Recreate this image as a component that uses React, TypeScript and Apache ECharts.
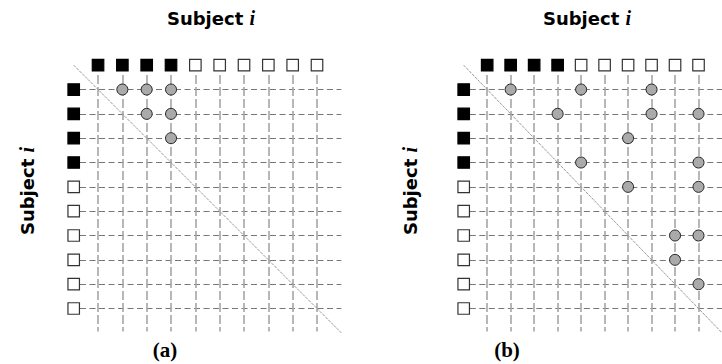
import React, { useEffect, useRef } from "react";
import * as echarts from "echarts";

// Subjects 1..10; subjects 1-4 are the marked (filled) ones
const subjects = [1, 2, 3, 4, 5, 6, 7, 8, 9, 10];
const markedSubjects = [1, 2, 3, 4];
// pairs [column subject, row subject] that are linked (grey circles)
const pairsA: [number, number][] = [
  [2, 1], [3, 1], [4, 1],
  [3, 2], [4, 2],
  [4, 3],
];
const pairsB: [number, number][] = [
  [2, 1], [5, 1], [8, 1],
  [4, 2], [8, 2], [10, 2],
  [7, 3],
  [5, 4], [10, 4],
  [7, 5], [10, 5],
  [9, 7], [10, 7],
  [9, 8],
  [10, 9],
];
const panelLabels = ["(a)", "(b)"];
const axisTitle = "Subject";

export default function App() {
  const ref = useRef<HTMLDivElement>(null);
  useEffect(() => {
    if (!ref.current) return;
    const chart = echarts.init(ref.current, undefined, { renderer: "svg" });
    const unit = 24.33;
    const span = 11 * unit;
    const grids = [
      { left: 73.7, top: 65.2, width: span, height: span },
      { left: 463.7, top: 65.2, width: span, height: span },
    ];
    const series: any[] = [];
    [pairsA, pairsB].forEach((pairs, gi) => {
      const hLines = subjects.map((r) => ({ coords: [[0.26, r], [11, r]] }));
      const vLines = subjects.map((c) => ({ coords: [[c, 0.4], [c, 10.95]] }));
      series.push({
        type: "lines",
        coordinateSystem: "cartesian2d",
        xAxisIndex: gi,
        yAxisIndex: gi,
        silent: true,
        z: 1,
        lineStyle: { color: "#777", width: 1.2, type: [6, 3.5], opacity: 1 },
        data: hLines,
      });
      series.push({
        type: "lines",
        coordinateSystem: "cartesian2d",
        xAxisIndex: gi,
        yAxisIndex: gi,
        silent: true,
        z: 1,
        lineStyle: { color: "#a5a5a5", width: 1.6, type: [9, 3], opacity: 1 },
        data: vLines,
      });
      series.push({
        type: "lines",
        coordinateSystem: "cartesian2d",
        xAxisIndex: gi,
        yAxisIndex: gi,
        silent: true,
        z: 2,
        lineStyle: { color: "#999", width: 1, type: [3, 1], opacity: 1 },
        data: [{ coords: [[0, 0], [11, 11]] }],
      });
      const squares: any[] = [];
      subjects.forEach((s) => {
        const filled = markedSubjects.includes(s);
        const st = {
          color: filled ? "#000" : "#fff",
          borderColor: filled ? "#000" : "#333",
          borderWidth: 1.2,
          opacity: 1,
        };
        squares.push({ value: [s, 0], itemStyle: st });
        squares.push({ value: [0, s], itemStyle: st });
      });
      series.push({
        type: "scatter",
        xAxisIndex: gi,
        yAxisIndex: gi,
        symbol: "rect",
        symbolSize: 11.5,
        silent: true,
        z: 3,
        itemStyle: { opacity: 1 },
        data: squares,
      });
      series.push({
        type: "scatter",
        xAxisIndex: gi,
        yAxisIndex: gi,
        symbol: "circle",
        symbolSize: 11,
        silent: true,
        z: 4,
        itemStyle: { color: "#aaaaaa", borderColor: "#222", borderWidth: 1, opacity: 1 },
        data: pairs.map((p) => [p[0], p[1]]),
      });
    });

    const rich = {
      s: { fontFamily: "DejaVu Sans", fontWeight: "bold", fontSize: 18, fill: "#000" },
      i: {
        fontFamily: "Liberation Serif",
        fontWeight: "bold",
        fontStyle: "italic",
        fontSize: 20,
        fill: "#000",
      },
    } as any;
    const titleText = `{s|${axisTitle} }{i|i}`;
    const graphics: any[] = [];
    const titlePos = [
      { tx: 211, ty: 18, vx: 27, vy: 191, lx: 165, ly: 350 },
      { tx: 587, ty: 18, vx: 410, vy: 191, lx: 507, ly: 350 },
    ];
    titlePos.forEach((p, i) => {
      graphics.push({
        type: "text",
        x: p.tx,
        y: p.ty,
        style: { text: titleText, rich, align: "center", verticalAlign: "middle" },
      });
      graphics.push({
        type: "text",
        x: p.vx,
        y: p.vy,
        rotation: Math.PI / 2,
        style: { text: titleText, rich, align: "center", verticalAlign: "middle" },
      });
      graphics.push({
        type: "text",
        x: p.lx,
        y: p.ly,
        style: {
          text: panelLabels[i],
          fontFamily: "Liberation Serif",
          fontWeight: "bold",
          fontSize: 21,
          fill: "#000",
          align: "center",
          verticalAlign: "middle",
        },
      });
    });

    chart.setOption({
      animation: false,
      backgroundColor: "#fff",
      grid: grids,
      xAxis: grids.map((_, i) => ({
        type: "value",
        gridIndex: i,
        min: 0,
        max: 11,
        show: false,
      })),
      yAxis: grids.map((_, i) => ({
        type: "value",
        gridIndex: i,
        min: 0,
        max: 11,
        inverse: true,
        show: false,
      })),
      series,
      graphic: graphics,
    });
    return () => chart.dispose();
  }, []);
  return (
    <div
      ref={ref}
      style={{ position: "fixed", left: 0, top: 0, width: 722, height: 364 }}
    />
  );
}
